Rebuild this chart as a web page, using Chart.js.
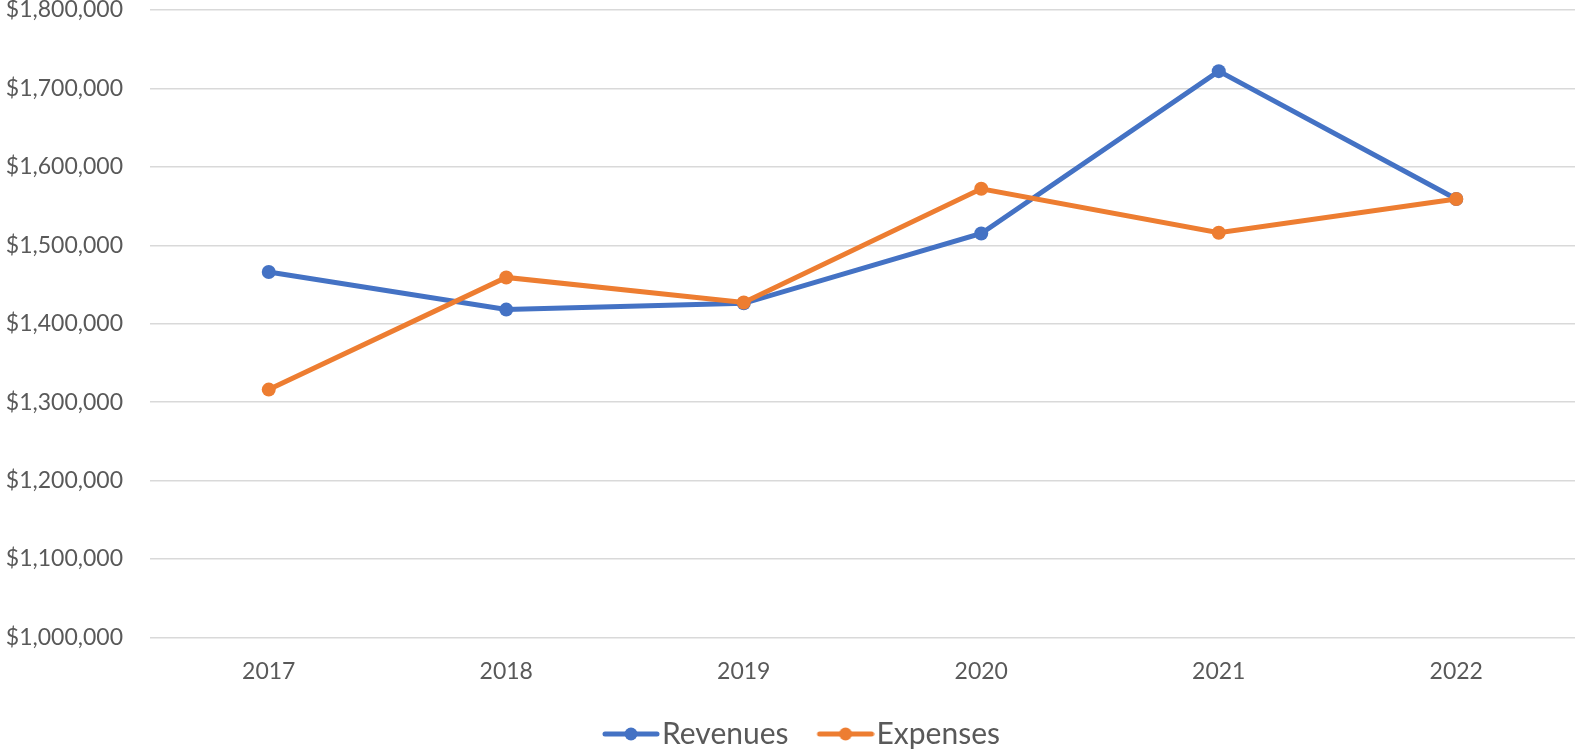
<!DOCTYPE html>
<html>
<head>
<meta charset="utf-8">
<script src="https://cdn.jsdelivr.net/npm/chart.js@4.4.1/dist/chart.umd.min.js"></script>
<style>
  html, body { margin: 0; padding: 0; background: #fff; }
  #wrap { width: 1582px; height: 750px; position: relative; }
</style>
</head>
<body>
<div id="wrap"><canvas id="chart"></canvas></div>
<script>
const years = ['2017', '2018', '2019', '2020', '2021', '2022'];
const revenues = [1466000, 1418000, 1426000, 1515000, 1722000, 1559000];
const expenses = [1316000, 1459000, 1427000, 1572000, 1516000, 1559000];
const yTicks = { min: 1000000, max: 1800000, step: 100000 };

const BLUE = '#4472C4';
const ORANGE = '#ED7D31';
const TEXT = '#595959';

// "line with dot" marker for the legend; blank on the left so the
// marker sits close to its text and the items keep their spacing
function legendMarker(color) {
  const c = document.createElement('canvas');
  c.width = 74;
  c.height = 16;
  const g = c.getContext('2d');
  g.strokeStyle = color;
  g.lineWidth = 5;
  g.lineCap = 'round';
  g.beginPath();
  g.moveTo(19, 8);
  g.lineTo(71, 8);
  g.stroke();
  g.fillStyle = color;
  g.beginPath();
  g.arc(45, 8, 6.5, 0, Math.PI * 2);
  g.fill();
  return c;
}

const markers = [legendMarker(BLUE), legendMarker(ORANGE)];

// nudge the legend a bit to the right, like the original
const legendShift = {
  id: 'legendShift',
  afterLayout(chart) {
    if (chart.legend) {
      chart.legend.left += 9;
      chart.legend.right += 9;
    }
  }
};

new Chart(document.getElementById('chart'), {
  type: 'line',
  data: {
    labels: years,
    datasets: [
      {
        label: 'Revenues',
        data: revenues,
        borderColor: BLUE,
        backgroundColor: BLUE,
        borderWidth: 5,
        pointRadius: 7,
        pointBorderWidth: 0,
        pointBackgroundColor: BLUE,
        tension: 0,
        order: 1
      },
      {
        label: 'Expenses',
        data: expenses,
        borderColor: ORANGE,
        backgroundColor: ORANGE,
        borderWidth: 5,
        pointRadius: 7,
        pointBorderWidth: 0,
        pointBackgroundColor: ORANGE,
        tension: 0,
        order: 0
      }
    ]
  },
  options: {
    responsive: true,
    maintainAspectRatio: false,
    animation: false,
    layout: { padding: { top: 10, right: 1, left: 0, bottom: -9 } },
    plugins: {
      tooltip: { enabled: false },
      legend: {
        position: 'bottom',
        labels: {
          color: TEXT,
          font: { family: 'Lato', size: 30 },
          usePointStyle: true,
          pointStyleWidth: 48,
          boxHeight: 16,
          padding: 25,
          sort: (a, b) => a.datasetIndex - b.datasetIndex,
          generateLabels: (chart) => {
            const items = Chart.defaults.plugins.legend.labels.generateLabels(chart);
            items.forEach(it => {
              it.pointStyle = markers[it.datasetIndex];
              it.lineWidth = 0;
            });
            return items;
          }
        }
      }
    },
    scales: {
      x: {
        offset: true,
        grid: { display: false, drawTicks: false },
        border: { display: false },
        ticks: {
          color: TEXT,
          font: { family: 'Lato', size: 23 },
          padding: 20
        },
        afterFit: (scale) => {
          scale.height -= 11;
        }
      },
      y: {
        min: yTicks.min,
        max: yTicks.max,
        grid: { color: '#D9D9D9', lineWidth: 1.5, drawTicks: false },
        border: { display: false },
        ticks: {
          stepSize: yTicks.step,
          color: TEXT,
          font: { family: 'Lato', size: 23 },
          padding: 27,
          callback: (v) => '$' + Number(v).toLocaleString('en-US')
        },
        afterFit: (scale) => {
          scale.width = 150;
          scale.paddingTop = 0;
          scale.paddingBottom = 0;
        }
      }
    }
  },
  plugins: [legendShift]
});
</script>
</body>
</html>
